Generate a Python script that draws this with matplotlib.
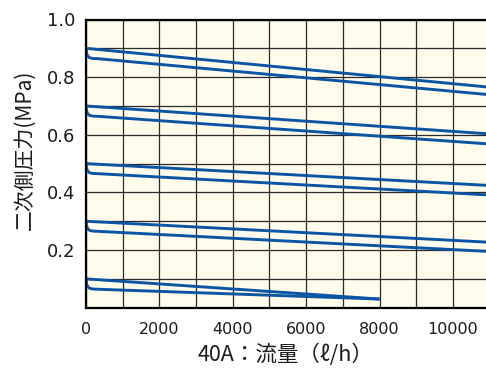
import matplotlib
matplotlib.use("Agg")
import matplotlib.pyplot as plt
from matplotlib.ticker import MultipleLocator, FixedLocator

plt.rcParams['font.family'] = ['Noto Sans CJK JP', 'DejaVu Sans']

# set pressures (MPa) at zero flow
set_pressure = [0.9, 0.7, 0.5, 0.3, 0.1]
# upper branch: value at the end of the line
upper_end = [0.765, 0.603, 0.424, 0.227, 0.03]
# lower branch: value just after the knee and at the end
lower_start = [0.864, 0.664, 0.465, 0.265, 0.064]
lower_end = [0.739, 0.568, 0.391, 0.195, 0.03]
# flow where the lines end (l/h)
flow_end = [11000, 11000, 11000, 11000, 8000]

# shape of the knee at low flow (flow, fraction of the drop)
knee_flow = [0, 15, 45, 100, 190, 330]
knee_frac = [0, 0.45, 0.75, 0.91, 0.98, 1.0]

x_ticks = [0, 2000, 4000, 6000, 8000, 10000]
y_ticks = [0.2, 0.4, 0.6, 0.8, 1.0]
y_labels = ['0.2', '0.4', '0.6', '0.8', '1.0']

line_color = '#0a55a3'
bg_color = '#fffcec'
text_color = '#1a1a1a'


def lower_curve(p, l0, l1, xe):
    xs = list(knee_flow)
    ys = [p - f * (p - l0) for f in knee_frac]
    xs.append(xe)
    ys.append(l1)
    return xs, ys


fig = plt.figure(figsize=(4.86, 3.76), dpi=100)
ax = fig.add_axes([86 / 486, 1 - 307.7 / 376, 1 - 86 / 486, (307.7 - 19.5) / 376])
ax.set_facecolor(bg_color)

for p, ue, l0, l1, xe in zip(set_pressure, upper_end, lower_start, lower_end, flow_end):
    ax.plot([0, xe], [p, ue], color=line_color, lw=2.1, solid_capstyle='butt')
    xs, ys = lower_curve(p, l0, l1, xe)
    ax.plot(xs, ys, color=line_color, lw=2.1, solid_capstyle='butt')

ax.set_xlim(0, 10900)
ax.set_ylim(0, 1.0)

ax.xaxis.set_major_locator(FixedLocator(x_ticks))
ax.xaxis.set_minor_locator(MultipleLocator(1000))
ax.yaxis.set_major_locator(FixedLocator(y_ticks))
ax.yaxis.set_minor_locator(MultipleLocator(0.1))
ax.set_yticklabels(y_labels)
ax.set_xticklabels([str(v) for v in x_ticks])
for lbl in ax.get_yticklabels():
    lbl.set_fontfamily('DejaVu Sans')
    lbl.set_fontsize(13)
for lbl in ax.get_xticklabels():
    lbl.set_fontfamily('DejaVu Sans')
    lbl.set_fontsize(11.5)

ax.tick_params(which='both', length=0, labelcolor=text_color)
ax.tick_params(axis='x', pad=10)
ax.tick_params(axis='y', pad=8)

ax.grid(which='both', color='#2a2a2a', lw=0.9)
ax.set_axisbelow(True)

for side in ['left', 'bottom', 'top']:
    ax.spines[side].set_linewidth(1.6)
    ax.spines[side].set_color('black')
ax.spines['right'].set_visible(False)

ax.set_xlabel('40A：流量（ℓ/h）', fontsize=15.5, labelpad=5, color=text_color)
ax.set_ylabel('二次側圧力(MPa)', fontsize=15, color=text_color)
ax.yaxis.set_label_coords(-0.125, 0.547)

fig.savefig('out.png', dpi=100, facecolor='white')
